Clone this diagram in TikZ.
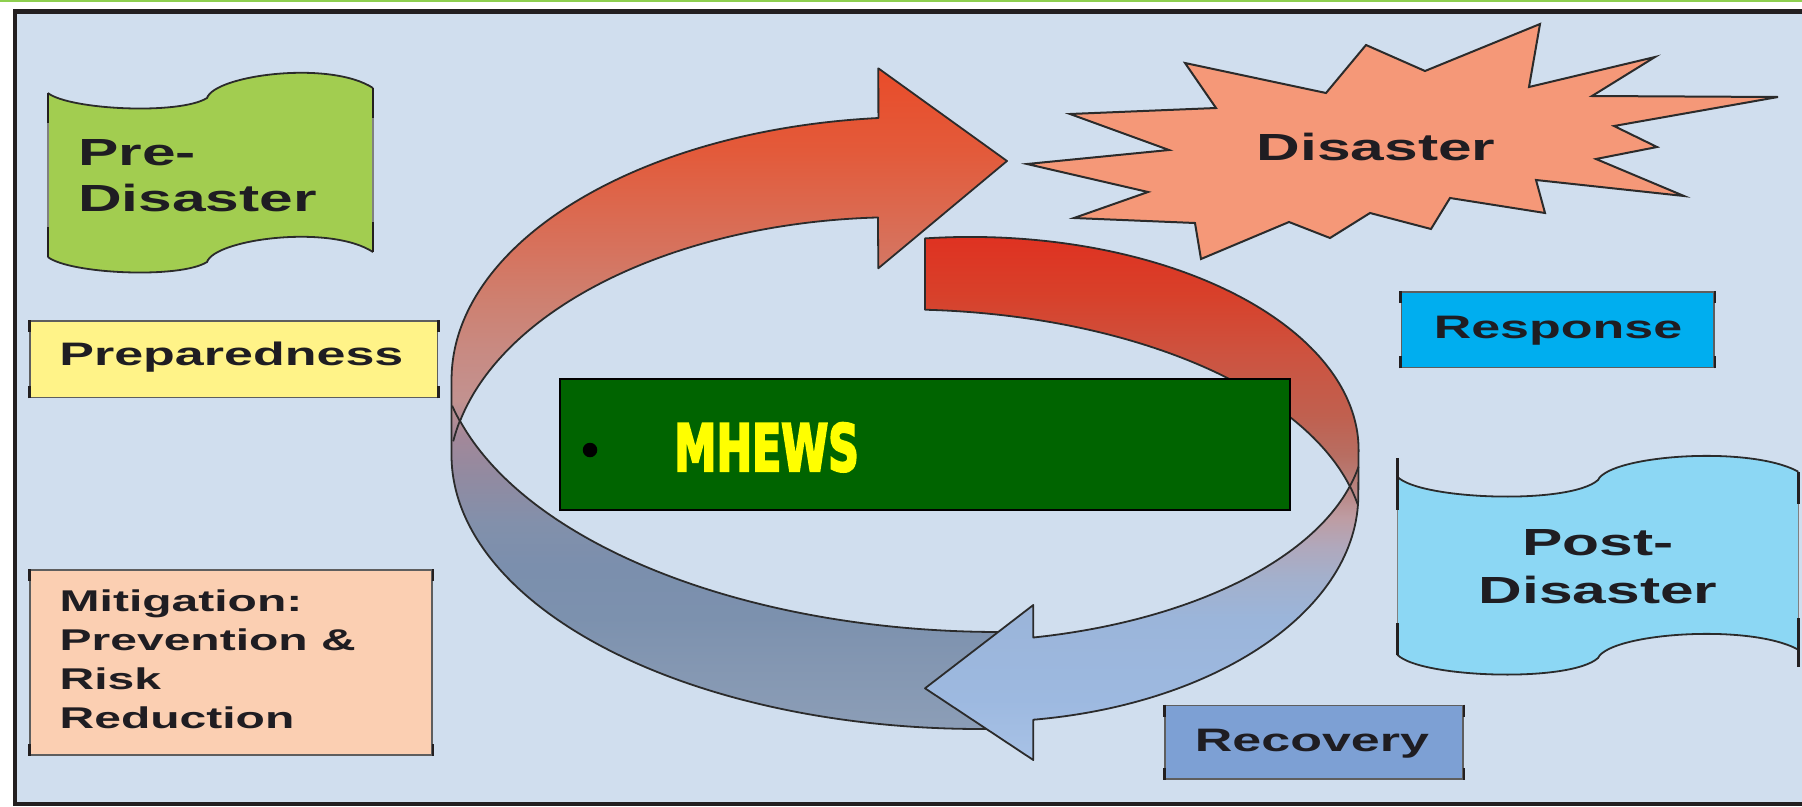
\documentclass[tikz,border=0pt]{standalone}
\usepackage{fontspec}
\setmainfont{Liberation Sans}
\newfontfamily\mhewsfont{DejaVu Sans}[FakeBold=4]
\usepackage{graphicx}

% palette
\definecolor{panel}{HTML}{D0DEEE}
\definecolor{framec}{HTML}{231F20}
\definecolor{topline}{HTML}{8DCF4F}
\definecolor{inkc}{HTML}{1F1D22}
\definecolor{edgec}{HTML}{2B2B2B}
\definecolor{boxedge}{HTML}{5E5E5E}
\definecolor{predis}{HTML}{A2CD50}
\definecolor{postdis}{HTML}{8CD7F4}
\definecolor{prep}{HTML}{FFF388}
\definecolor{mitig}{HTML}{FBCFB2}
\definecolor{resp}{HTML}{00AEEF}
\definecolor{recov}{HTML}{7DA0D4}
\definecolor{burst}{HTML}{F59878}
\definecolor{mhewsbg}{HTML}{006400}
\definecolor{mhewsfg}{HTML}{FFFF00}

% colour stops of the two ring arrows (bottom to top)
\definecolor{ra01}{HTML}{8C9EB7}\definecolor{ra02}{HTML}{8497B2}
\definecolor{ra03}{HTML}{7C91AE}\definecolor{ra04}{HTML}{7B8FAD}
\definecolor{ra05}{HTML}{8290AB}\definecolor{ra06}{HTML}{938AA0}
\definecolor{ra07}{HTML}{A38899}\definecolor{ra08}{HTML}{C29290}
\definecolor{ra09}{HTML}{C88A82}\definecolor{ra10}{HTML}{CE8070}
\definecolor{ra11}{HTML}{D6735E}\definecolor{ra12}{HTML}{E35A3A}
\definecolor{ra13}{HTML}{E94C2A}
\definecolor{rb01}{HTML}{A8C2E6}\definecolor{rb02}{HTML}{9DB9E0}
\definecolor{rb03}{HTML}{9BB5DA}\definecolor{rb04}{HTML}{A3B0CC}
\definecolor{rb05}{HTML}{B0A8BC}\definecolor{rb06}{HTML}{BE9CA2}
\definecolor{rb07}{HTML}{B8827E}\definecolor{rb08}{HTML}{B86E62}
\definecolor{rb09}{HTML}{C0604F}\definecolor{rb10}{HTML}{CD5340}
\definecolor{rb11}{HTML}{D8402A}\definecolor{rb12}{HTML}{E03020}

% the shaded path is mapped onto the 25bp..75bp band
\pgfdeclareverticalshading{ringA}{100bp}{%
  color(0bp)=(ra01); color(25bp)=(ra01); color(29.8bp)=(ra02);
  color(33.6bp)=(ra03); color(37.5bp)=(ra04); color(40.7bp)=(ra05);
  color(44.5bp)=(ra06); color(47.3bp)=(ra07); color(49.9bp)=(ra08);
  color(53.7bp)=(ra09); color(57.5bp)=(ra10); color(61.2bp)=(ra11);
  color(68.8bp)=(ra12); color(75bp)=(ra13); color(100bp)=(ra13)}
\pgfdeclareverticalshading{ringB}{100bp}{%
  color(0bp)=(rb01); color(25bp)=(rb01); color(30.7bp)=(rb02);
  color(38.4bp)=(rb03); color(42.2bp)=(rb04); color(45.1bp)=(rb05);
  color(47.9bp)=(rb06); color(50.8bp)=(rb07); color(53.7bp)=(rb08);
  color(57.5bp)=(rb09); color(63.2bp)=(rb10); color(69bp)=(rb11);
  color(75bp)=(rb12); color(100bp)=(rb12)}

\newcommand\hwide[1]{\scalebox{1.6}[1]{#1}}
\newcommand\cornerticks[1]{%
  \draw[tickmark] (#1.north west) -- ++(0,12);
  \draw[tickmark] (#1.south west) -- ++(0,-12);
  \draw[tickmark] (#1.north east) -- ++(0,12);
  \draw[tickmark] (#1.south east) -- ++(0,-12);}

\begin{document}
\begin{tikzpicture}[x=1pt,y=-1pt,
  ringedge/.style={draw=edgec, line width=1.8, line join=round},
  boxstyle/.style={draw=boxedge, line width=1.6, inner sep=0},
  tickmark/.style={draw=framec, line width=2.6},
  waveedge/.style={draw=edgec, line width=1.8},
  waveside/.style={draw=gray, line width=1.6},
  lbl/.style={inner sep=0, text=inkc},
  bigfont/.style={font=\bfseries\fontsize{37.8}{46.7}\selectfont},
  midfont/.style={font=\bfseries\fontsize{32.5}{39}\selectfont},
  smallfont/.style={font=\bfseries\fontsize{30}{38.8}\selectfont}]

\useasboundingbox (0,0) rectangle (1802,806);
\clip (0,0) rectangle (1802,806);

% page, top rule and the panel
\fill[white] (0,0) rectangle (1802,806);
\fill[topline] (0,0) rectangle (1802,1.8);
\draw[framec, line width=4.5, fill=panel] (15,11.5) rectangle (1840,804);

% ring arrow from the bottom, round the left, up to the disaster
\shadedraw[shading=ringA, ringedge]
  (878.4,118) arc[start angle=264.9, end angle=180, x radius=468.5, y radius=263]
  -- (451.5,455) arc[start angle=180, end angle=87.8, x radius=528.5, y radius=274]
  -- (1000,632) arc[start angle=90, end angle=163.9, x radius=562, y radius=292]
  arc[start angle=193, end angle=267.2, x radius=451.5, y radius=263]
  -- (878.3,268.3) -- (1007,161) -- (878.3,68.3) -- cycle;
\draw[ringedge] (459.8,421) arc[start angle=163.9, end angle=167, x radius=562, y radius=292];
\draw[ringedge] (459.8,421) arc[start angle=193, end angle=188.5, x radius=451.5, y radius=263];

% ring arrow from the top, round the right, down to recovery
\shadedraw[shading=ringB, ringedge]
  (925,238.4) arc[start angle=263.3, end angle=360, x radius=388.3, y radius=213]
  -- (1358.3,495) arc[start angle=0, end angle=81.9, x radius=378.3, y radius=227]
  -- (1033.3,760) -- (925,688.3) -- (1033.3,605) -- (1033.3,637.5)
  arc[start angle=78.4, end angle=15.4, x radius=414.8, y radius=211.8]
  arc[start angle=345.5, end angle=273.1, x radius=464.8, y radius=236]
  -- cycle;
\draw[ringedge] (1349.9,486.2) arc[start angle=15.4, end angle=10, x radius=414.8, y radius=211.8];
\draw[ringedge] (1349.9,486.2) arc[start angle=345.5, end angle=350, x radius=464.8, y radius=236];

% centre banner
\node[draw=black, line width=1.7, fill=mhewsbg, minimum width=730,
      minimum height=131, inner sep=0] (mhewsbox) at (925,444.5) {};
\node[circle, fill=black, inner sep=0, minimum size=14.5] (bullet) at (590,450) {};
\node[inner sep=0, anchor=base west, text=mhewsfg,
      font=\mhewsfont\bfseries\fontsize{64.5}{70}\selectfont]
      (mhews) at (674,470.8) {\scalebox{0.66}[1]{MHEWS}};

% disaster starburst
\filldraw[fill=burst, draw=edgec, line width=2]
  (1540,24) -- (1529,87) -- (1655,57) -- (1592,96) -- (1778,97) -- (1614,126)
  -- (1657,147) -- (1596,159) -- (1684,196) -- (1536,180) -- (1545,213)
  -- (1450,198) -- (1431,229) -- (1370,213) -- (1330,238) -- (1289,222)
  -- (1201,259) -- (1195,223) -- (1074,218) -- (1148,192) -- (1027,164)
  -- (1169,150) -- (1070,114) -- (1216,108) -- (1185,63) -- (1326,93)
  -- (1366,45) -- (1425,71) -- cycle;
\node[lbl, bigfont, anchor=base] (disastertxt) at (1376,160) {\hwide{Disaster}};

% phase boxes
\node[boxstyle, fill=prep, minimum width=407.5, minimum height=76.5] (prepbox) at (233.75,359.25) {};
\node[boxstyle, fill=mitig, minimum width=402, minimum height=185] (mitbox) at (231,662.5) {};
\node[boxstyle, fill=resp, minimum width=312.5, minimum height=75.5] (respbox) at (1557.75,329.75) {};
\node[boxstyle, fill=recov, minimum width=298, minimum height=73.5] (recbox) at (1314,742.25) {};
\cornerticks{prepbox}
\cornerticks{mitbox}
\cornerticks{respbox}
\cornerticks{recbox}

\node[lbl, midfont, anchor=base west] (preptxt) at (59.2,365) {\hwide{Preparedness}};
\node[lbl, smallfont, anchor=base west] (mittxt) at (59.5,611.7)
  {\hwide{\begin{tabular}[t]{@{}l@{}}Mitigation:\\Prevention \&\\Risk\\Reduction\end{tabular}}};
\node[lbl, midfont, anchor=base] (resptxt) at (1558,338.3) {\hwide{Response}};
\node[lbl, midfont, anchor=base] (rectxt) at (1312,751.5) {\hwide{Recovery}};

% pre-disaster banner
\fill[predis] (47.8,93) .. controls (70,110) and (180,115) .. (207,98)
  .. controls (215,75) and (330,60) .. (373,88) -- (373,252)
  .. controls (330,224) and (215,239) .. (207,262)
  .. controls (180,279) and (70,274) .. (47.8,257) -- cycle;
\draw[waveedge] (47.8,93) .. controls (70,110) and (180,115) .. (207,98)
  .. controls (215,75) and (330,60) .. (373,88);
\draw[waveedge] (47.8,257) .. controls (70,274) and (180,279) .. (207,262)
  .. controls (215,239) and (330,224) .. (373,252);
\draw[waveside] (47.8,93) -- (47.8,257);
\draw[waveside] (373,88) -- (373,252);
\draw[tickmark] (47.8,93) -- ++(0,30);
\draw[tickmark] (47.8,257) -- ++(0,-30);
\draw[tickmark] (373,88) -- ++(0,30);
\draw[tickmark] (373,252) -- ++(0,-30);
\node[lbl, bigfont, anchor=base west] (pretxt) at (78,165)
  {\hwide{\begin{tabular}[t]{@{}l@{}}Pre-\\Disaster\end{tabular}}};

% post-disaster banner
\fill[postdis] (1397.3,476.7) .. controls (1420,500) and (1570,505) .. (1598,480)
  .. controls (1610,455) and (1750,445) .. (1798.3,471.7) -- (1798.3,649.7)
  .. controls (1750,623) and (1610,633) .. (1598,658)
  .. controls (1570,683) and (1420,678) .. (1397.3,654.7) -- cycle;
\draw[waveedge] (1397.3,476.7) .. controls (1420,500) and (1570,505) .. (1598,480)
  .. controls (1610,455) and (1750,445) .. (1798.3,471.7);
\draw[waveedge] (1397.3,654.7) .. controls (1420,678) and (1570,683) .. (1598,658)
  .. controls (1610,633) and (1750,623) .. (1798.3,649.7);
\draw[waveside] (1397.3,476.7) -- (1397.3,654.7);
\draw[waveside] (1798.3,471.7) -- (1798.3,649.7);
\draw[tickmark] (1397.3,458) -- (1397.3,510);
\draw[tickmark] (1397.3,654.7) -- ++(0,-32);
\draw[tickmark] (1798.3,471.7) -- ++(0,32);
\draw[tickmark] (1798.3,618) -- (1798.3,667);
\node[lbl, bigfont, anchor=base] (posttxt) at (1598,555)
  {\hwide{\begin{tabular}[t]{@{}c@{}}Post-\\[1.3pt]Disaster\end{tabular}}};
\end{tikzpicture}
\end{document}
